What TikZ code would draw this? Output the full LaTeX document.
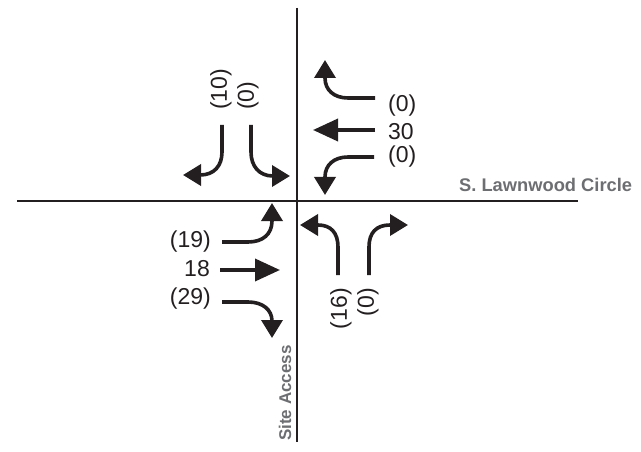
\documentclass[tikz,border=0pt]{standalone}
\usepackage{fontspec}
\setmainfont{Liberation Sans}
\usetikzlibrary{arrows.meta}
\definecolor{ink}{HTML}{231F20}
\definecolor{streetgray}{HTML}{6D6E71}
\tikzset{
  road/.style={draw=ink, line width=2pt},
  turnarrow/.style={draw=ink, line width=3.6pt, -{Triangle[length=18pt,width=21pt]}},
  thruarrow/.style={draw=ink, line width=3.6pt, -{Triangle[length=25pt,width=22pt]}},
  vol/.style={inner sep=0pt, text=ink, font=\fontsize{23}{23}\selectfont},
  street/.style={inner sep=0pt, text=streetgray, font=\fontsize{17}{17}\selectfont\bfseries}
}
\begin{document}
\begin{tikzpicture}[x=1pt,y=-1pt]
\useasboundingbox (0,0) rectangle (641,452);
% roads
\draw[road] (17,201) -- (578,201);
\draw[road] (297,8) -- (297,442);
% street names
\node[street, anchor=west, font=\fontsize{18.3}{18.3}\selectfont\bfseries] (lawn) at (459,185) {S. Lawnwood Circle};
\node[street, rotate=90] (site) at (285,393) {Site Access};
% southbound
\draw[turnarrow] (222,125) -- (222,152) .. controls (222,166) and (214,175) .. (200,175) -- (183,175);
\draw[turnarrow] (251,125) -- (251,152) .. controls (251,166) and (259,176) .. (273,176) -- (290,176);
\node[vol, rotate=90, anchor=west] (sbl) at (221,110) {(10)};
\node[vol, rotate=90, anchor=west] (sbr) at (248,110) {(0)};
% westbound
\draw[turnarrow] (375,98) -- (348,98) .. controls (334,98) and (325,90) .. (325,78) -- (325,60);
\draw[thruarrow] (375,130) -- (313,130);
\draw[turnarrow] (374,157) -- (348,157) .. controls (334,157) and (325,165) .. (325,177) -- (325,195);
\node[vol, anchor=west] (wbl) at (388,106) {(0)};
\node[vol, anchor=west] (wbt) at (388,132) {30};
\node[vol, anchor=west] (wbr) at (388,157) {(0)};
% eastbound
\draw[turnarrow] (222,242) -- (248,242) .. controls (263,242) and (272,234) .. (272,221) -- (272,203);
\draw[thruarrow] (220,270) -- (280,270);
\draw[turnarrow] (222,302) -- (248,302) .. controls (263,302) and (272,310) .. (272,321) -- (272,338);
\node[vol, anchor=east] (ebl) at (211,242) {(19)};
\node[vol, anchor=east] (ebt) at (210,269) {18};
\node[vol, anchor=east] (ebr) at (211,299) {(29)};
% northbound
\draw[turnarrow] (338,275) -- (338,247) .. controls (338,233) and (331,225) .. (318,225) -- (300,225);
\draw[turnarrow] (369,275) -- (369,247) .. controls (369,233) and (376,225) .. (390,225) -- (408,225);
\node[vol, rotate=90, anchor=east] (nbl) at (341,288) {(16)};
\node[vol, rotate=90, anchor=east] (nbr) at (368,288) {(0)};
\end{tikzpicture}
\end{document}
